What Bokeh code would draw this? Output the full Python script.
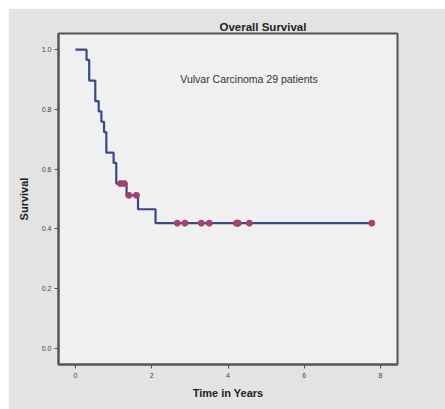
from bokeh.plotting import figure
from bokeh.models import Range1d, Label, FixedTicker
from bokeh.embed import file_html
from bokeh.resources import INLINE

# Survival data (years); event 1 = death, 0 = censored
times = [0.29, 0.36, 0.36, 0.52, 0.52, 0.61, 0.68, 0.75, 0.81, 0.81, 1.00, 1.07, 1.07,
         1.18, 1.28, 1.34, 1.40, 1.60, 1.64, 2.10,
         2.67, 2.87, 3.30, 3.51, 4.22, 4.25, 4.27, 4.56, 7.77]
events = [1, 1, 1, 1, 1, 1, 1, 1, 1, 1, 1, 1, 1,
          0, 0, 1, 0, 0, 1, 1,
          0, 0, 0, 0, 0, 0, 0, 0, 0]
x_ticks = [0, 2, 4, 6, 8]
y_ticks = [0.0, 0.2, 0.4, 0.6, 0.8, 1.0]
y_tick_labels = {0.0: "0.0", 0.2: "0.2", 0.4: "0.4", 0.6: "0.6", 0.8: "0.8", 1.0: "1.0"}

# Kaplan-Meier estimate
order = sorted(range(len(times)), key=lambda i: (times[i], -events[i]))
at_risk = len(times)
S = 1.0
sx, sy = [0.0], [1.0]
cx, cy = [], []
i = 0
while i < len(order):
    t = times[order[i]]
    d = 0
    c = 0
    while i < len(order) and times[order[i]] == t:
        if events[order[i]] == 1:
            d += 1
        else:
            c += 1
        i += 1
    if d > 0:
        sx.append(t); sy.append(S)
        S = S * (at_risk - d) / at_risk
        sx.append(t); sy.append(S)
    for _ in range(c):
        cx.append(t); cy.append(S)
    at_risk -= d + c
sx.append(max(times)); sy.append(S)

FONT = "Liberation Sans"
p = figure(width=437, height=401, output_backend="svg", toolbar_location=None,
           x_range=Range1d(-0.445, 8.445), y_range=Range1d(-0.054, 1.054),
           min_border_left=50, min_border_right=48, min_border_top=25, min_border_bottom=45)
p.margin = (8, 0, 0, 8)
p.border_fill_color = "#e3e3e3"
p.background_fill_color = "#f0f0f0"
p.outline_line_color = "#555555"
p.outline_line_width = 2
p.grid.visible = False

p.title.text = "Overall Survival"
p.title.align = "left"
p.title.offset = 161
p.title.standoff = 1
p.title.text_font = FONT
p.title.text_font_style = "bold"
p.title.text_font_size = "11.5px"
p.title.text_color = "#222222"

p.line(sx, sy, line_color="#3a4886", line_width=2.2)
p.scatter(cx, cy, size=6, marker="circle", fill_color="#a3416f", line_color="#a3416f")

for ax in (p.xaxis[0], p.yaxis[0]):
    ax.axis_line_color = "#555555"
    ax.axis_line_width = 2
    ax.major_tick_line_color = "#555555"
    ax.major_tick_out = 4
    ax.major_tick_in = 0
    ax.minor_tick_line_color = None
    ax.major_label_text_font = FONT
    ax.major_label_text_font_size = "7px"
    ax.major_label_text_color = "#444444"
    ax.axis_label_text_font = FONT
    ax.axis_label_text_font_style = "bold"
    ax.axis_label_text_font_size = "11px"
    ax.axis_label_text_color = "#222222"

p.xaxis.ticker = FixedTicker(ticks=x_ticks)
p.yaxis.ticker = FixedTicker(ticks=y_ticks)
p.yaxis.major_label_overrides = y_tick_labels
p.xaxis.axis_label = "Time in Years"
p.yaxis.axis_label = "Survival"
p.xaxis.major_label_standoff = 4
p.xaxis.axis_label_standoff = 6
p.yaxis.major_label_standoff = 3
p.yaxis.axis_label_standoff = 9

p.add_layout(Label(x=2.75, y=0.903, text="Vulvar Carcinoma 29 patients", text_font=FONT,
                   text_font_size="10.5px", text_color="#333333",
                   text_align="left", text_baseline="middle"))

open("out.html", "w").write(file_html(p, INLINE))
